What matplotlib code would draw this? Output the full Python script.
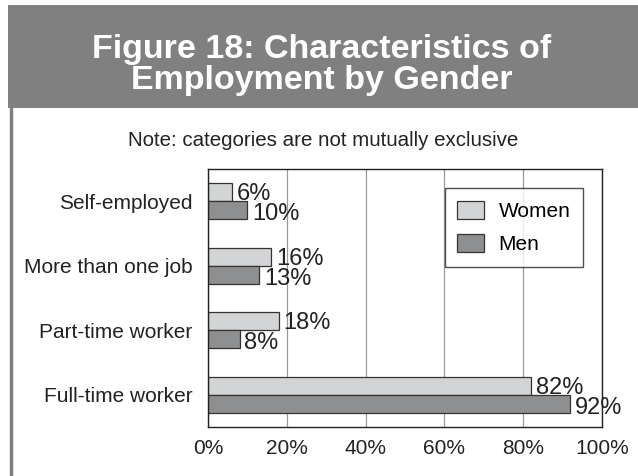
import numpy as np
import matplotlib.pyplot as plt
from matplotlib.patches import Rectangle

plt.rcParams['font.family'] = ['Liberation Sans', 'DejaVu Sans']

categories = ['Self-employed', 'More than one job', 'Part-time worker', 'Full-time worker']
women = [6, 16, 18, 82]
men = [10, 13, 8, 92]
xticks = [0, 20, 40, 60, 80, 100]

fig = plt.figure(figsize=(6.38, 4.76), dpi=100)
W, H = 638, 476

# title banner and left frame line
fig.patches.append(Rectangle((8 / W, 1 - 108 / H), 1 - 8 / W, 103 / H,
                             transform=fig.transFigure, facecolor='#808080', edgecolor='none'))
fig.add_artist(plt.Line2D([10.5 / W, 10.5 / W], [0, 1 - 108 / H], transform=fig.transFigure,
                          color='#808080', lw=2.5))
fig.text(322 / W, 1 - 58 / H, 'Figure 18: Characteristics of', ha='center', va='baseline',
         color='white', fontsize=24.5, fontweight='bold')
fig.text(322 / W, 1 - 89 / H, 'Employment by Gender', ha='center', va='baseline',
         color='white', fontsize=24.5, fontweight='bold')
fig.text(323 / W, 1 - 140 / H, 'Note: categories are not mutually exclusive',
         ha='center', va='center', fontsize=14.8, color='#222222')

ax = fig.add_axes([208 / W, 1 - 427 / H, 394 / W, 258 / H])
y = np.arange(len(categories))
h = 0.28
ax.barh(y - h / 2, women, height=h, color='#d3d4d5', edgecolor='#333333', lw=0.9, label='Women')
ax.barh(y + h / 2, men, height=h, color='#8e8f91', edgecolor='#333333', lw=0.9, label='Men')

for i in range(len(categories)):
    ax.text(women[i] + 1.2, y[i] - h / 2 + 0.03, f'{women[i]}%', va='center', ha='left',
            fontsize=17, color='#222222')
    ax.text(men[i] + 1.2, y[i] + h / 2 + 0.06, f'{men[i]}%', va='center', ha='left',
            fontsize=17, color='#222222')

ax.set_xlim(0, 100)
ax.set_ylim(3.5, -0.5)
ax.set_xticks(xticks)
ax.set_xticklabels([f'{t}%' for t in xticks])
ax.set_yticks(y)
ax.set_yticklabels(categories)
ax.tick_params(length=0, labelsize=15, colors='#222222')
ax.tick_params(axis='x', pad=9)
ax.tick_params(axis='y', pad=11)
ax.xaxis.grid(True, color='#999999', lw=0.9)
ax.set_axisbelow(True)
for s in ax.spines.values():
    s.set_color('#222222')
    s.set_linewidth(1)

leg = ax.legend(loc='upper right', bbox_to_anchor=(0.952, 0.926), borderaxespad=0, fontsize=15,
                frameon=True, fancybox=False, edgecolor='#222222', borderpad=0.6, labelspacing=0.6,
                handlelength=1.3, handleheight=1.0, handletextpad=0.7)
leg.get_frame().set_linewidth(1)

fig.savefig('out.png', dpi=100)
